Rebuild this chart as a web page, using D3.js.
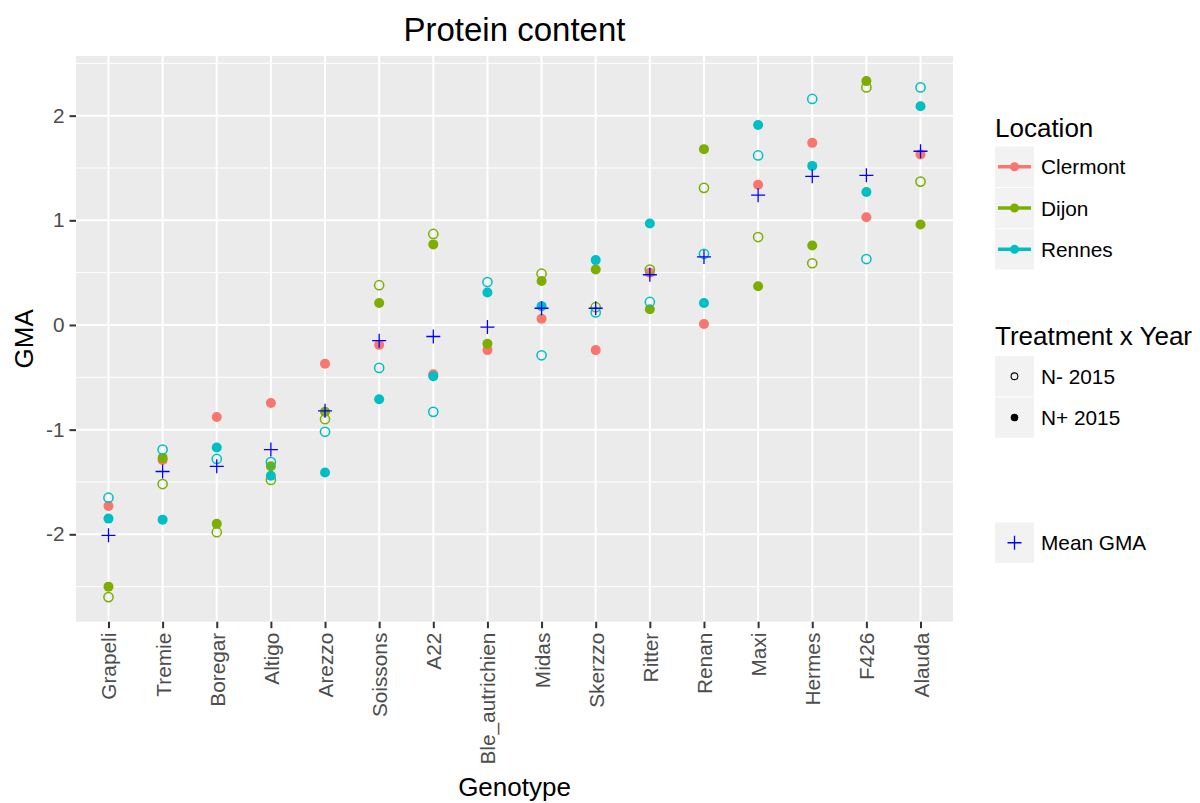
<!DOCTYPE html>
<html>
<head>
<meta charset="utf-8">
<script src="https://cdn.jsdelivr.net/npm/d3@7"></script>
<style>
  body { margin: 0; background: #fff; }
  text { font-family: "Liberation Sans", Arial, sans-serif; }
</style>
</head>
<body>
<div id="chart"></div>
<script>
// Genotypes (ordered by mean GMA)
const genotypes = ["Grapeli", "Tremie", "Boregar", "Altigo", "Arezzo", "Soissons", "A22", "Ble_autrichien",
    "Midas", "Skerzzo", "Ritter", "Renan", "Maxi", "Hermes", "F426", "Alauda"];

// GMA values per location x treatment (null = not visible)
const clermontNplus = [-1.73, -1.29, -0.88, -0.745, -0.37, -0.19, -0.47, -0.24, 0.06, -0.24, 0.50, 0.01, 1.34, 1.74, 1.03, 1.63];
const dijonNminus   = [-2.60, -1.52, -1.98, -1.48, -0.90, 0.38, 0.87, null, 0.49, 0.17, 0.53, 1.31, 0.84, 0.59, 2.27, 1.37];
const dijonNplus    = [-2.50, -1.27, -1.90, -1.35, -0.83, 0.21, 0.77, -0.18, 0.42, 0.53, 0.15, 1.68, 0.37, 0.76, 2.33, 0.96];
const rennesNminus  = [-1.65, -1.19, -1.28, -1.31, -1.02, -0.41, -0.83, 0.41, -0.29, 0.12, 0.22, 0.68, 1.62, 2.16, 0.63, 2.27];
const rennesNplus   = [-1.85, -1.86, -1.17, -1.44, -1.41, -0.71, -0.49, 0.31, 0.18, 0.62, 0.97, 0.21, 1.91, 1.52, 1.27, 2.09];
const meanGMA       = [-2.01, -1.40, -1.35, -1.19, -0.82, -0.15, -0.11, -0.02, 0.16, 0.16, 0.48, 0.65, 1.24, 1.42, 1.43, 1.66];

const locations = ["Clermont", "Dijon", "Rennes"];
const locColors = ["#F8766D", "#7CAE00", "#00BFC4"];
const treatments = ["N- 2015", "N+ 2015"];
const yTicks = [-2, -1, 0, 1, 2];

// long format rows
const series = [
    {loc: "Clermont", trt: "N+ 2015", values: clermontNplus},
    {loc: "Dijon", trt: "N- 2015", values: dijonNminus},
    {loc: "Dijon", trt: "N+ 2015", values: dijonNplus},
    {loc: "Rennes", trt: "N- 2015", values: rennesNminus},
    {loc: "Rennes", trt: "N+ 2015", values: rennesNplus}
];
const points = [];
series.forEach(s => s.values.forEach((v, i) => {
    if (v !== null) points.push({g: genotypes[i], loc: s.loc, trt: s.trt, v: v});
}));

// Constantes
const W = 1200, H = 803;
const margin = {top: 56, left: 76},
    width = 877,
    height = 565.7;

const svg = d3.select("#chart").append("svg")
    .attr("width", W).attr("height", H);

const g = svg.append("g")
    .attr("transform", "translate(" + margin.left + "," + margin.top + ")");

const x = d3.scalePoint().domain(genotypes).range([0, width]).padding(0.6);
const y = d3.scaleLinear().domain([-2.835, 2.57]).range([height, 0]);
const color = d3.scaleOrdinal().domain(locations).range(locColors);

// panel
g.append("rect").attr("width", width).attr("height", height).attr("fill", "#EBEBEB");

// minor grid
g.selectAll(".minor").data([-2.5, -1.5, -0.5, 0.5, 1.5, 2.5]).enter().append("line")
    .attr("x1", 0).attr("x2", width)
    .attr("y1", d => y(d)).attr("y2", d => y(d))
    .attr("stroke", "#fff").attr("stroke-width", 1);

// major grid
g.selectAll(".majorY").data(yTicks).enter().append("line")
    .attr("x1", 0).attr("x2", width)
    .attr("y1", d => y(d)).attr("y2", d => y(d))
    .attr("stroke", "#fff").attr("stroke-width", 2);
g.selectAll(".majorX").data(genotypes).enter().append("line")
    .attr("x1", d => x(d)).attr("x2", d => x(d))
    .attr("y1", 0).attr("y2", height)
    .attr("stroke", "#fff").attr("stroke-width", 2);

// axes
const xAxis = g.append("g")
    .attr("transform", "translate(0," + height + ")")
    .call(d3.axisBottom(x).tickSize(6.5).tickPadding(4));
xAxis.select(".domain").remove();
xAxis.selectAll("line").attr("stroke", "#333").attr("stroke-width", 2);
xAxis.selectAll("text")
    .attr("transform", "rotate(-90)")
    .attr("text-anchor", "end")
    .attr("x", -11).attr("y", 0).attr("dy", "0.36em")
    .attr("fill", "#4D4D4D")
    .style("font-size", "20.8px");

const yAxis = g.append("g")
    .call(d3.axisLeft(y).tickValues(yTicks).tickFormat(d => String(d)).tickSize(6.5).tickPadding(5));
yAxis.select(".domain").remove();
yAxis.selectAll("line").attr("stroke", "#333").attr("stroke-width", 2);
yAxis.selectAll("text").attr("fill", "#4D4D4D").style("font-size", "20.8px");

// points
g.selectAll(".pt").data(points).enter().append("circle")
    .attr("cx", d => x(d.g))
    .attr("cy", d => y(d.v))
    .attr("r", d => d.trt === "N+ 2015" ? 5 : 4.6)
    .attr("fill", d => d.trt === "N+ 2015" ? color(d.loc) : "none")
    .attr("stroke", d => color(d.loc))
    .attr("stroke-width", d => d.trt === "N+ 2015" ? 0 : 1.5);

// mean crosses
g.selectAll(".mean").data(meanGMA).enter().append("path")
    .attr("transform", (d, i) => "translate(" + x(genotypes[i]) + "," + y(d) + ")")
    .attr("d", "M-7,0H7M0,-7V7")
    .attr("stroke", "#0000FF").attr("stroke-width", 1.3).attr("fill", "none");

// titles
svg.append("text")
    .attr("x", margin.left + width / 2).attr("y", 41)
    .attr("text-anchor", "middle")
    .style("font-size", "33px")
    .text("Protein content");

svg.append("text")
    .attr("x", margin.left + width / 2).attr("y", 796)
    .attr("text-anchor", "middle")
    .style("font-size", "26px")
    .text("Genotype");

svg.append("text")
    .attr("transform", "translate(33," + (margin.top + height / 2) + ") rotate(-90)")
    .attr("text-anchor", "middle")
    .style("font-size", "26px")
    .text("GMA");

// Legend
const legX = 995, keyW = 39, keyH = 40.5;
const leg = svg.append("g");

leg.append("text").attr("x", legX).attr("y", 137).style("font-size", "26px").text("Location");
locations.forEach((l, i) => {
    const ky = 146.5 + i * (keyH + 0.8);
    leg.append("rect").attr("x", legX).attr("y", ky).attr("width", keyW).attr("height", keyH).attr("fill", "#F2F2F2");
    leg.append("line").attr("x1", legX + 3).attr("x2", legX + keyW - 3)
        .attr("y1", ky + keyH / 2).attr("y2", ky + keyH / 2)
        .attr("stroke", color(l)).attr("stroke-width", 3.5);
    leg.append("circle").attr("cx", legX + keyW / 2).attr("cy", ky + keyH / 2).attr("r", 4.5).attr("fill", color(l));
    leg.append("text").attr("x", 1041).attr("y", ky + keyH / 2).attr("dy", "0.36em")
        .style("font-size", "20.8px").text(l);
});

leg.append("text").attr("x", legX).attr("y", 345).style("font-size", "26px").text("Treatment x Year");
treatments.forEach((t, i) => {
    const ky = 356 + i * (keyH + 0.8);
    leg.append("rect").attr("x", legX).attr("y", ky).attr("width", keyW).attr("height", keyH).attr("fill", "#F2F2F2");
    leg.append("circle").attr("cx", legX + keyW / 2).attr("cy", ky + keyH / 2)
        .attr("r", i === 0 ? 3.4 : 3.8)
        .attr("fill", i === 0 ? "none" : "#000")
        .attr("stroke", "#000").attr("stroke-width", i === 0 ? 1.1 : 0);
    leg.append("text").attr("x", 1041).attr("y", ky + keyH / 2).attr("dy", "0.36em")
        .style("font-size", "20.8px").text(t);
});

{
    const ky = 522.5;
    leg.append("rect").attr("x", legX).attr("y", ky).attr("width", keyW).attr("height", keyH).attr("fill", "#F2F2F2");
    leg.append("path")
        .attr("transform", "translate(" + (legX + keyW / 2) + "," + (ky + keyH / 2) + ")")
        .attr("d", "M-7,0H7M0,-7V7")
        .attr("stroke", "#0000FF").attr("stroke-width", 1.3).attr("fill", "none");
    leg.append("text").attr("x", 1041).attr("y", ky + keyH / 2).attr("dy", "0.36em")
        .style("font-size", "20.8px").text("Mean GMA");
}
</script>
</body>
</html>
